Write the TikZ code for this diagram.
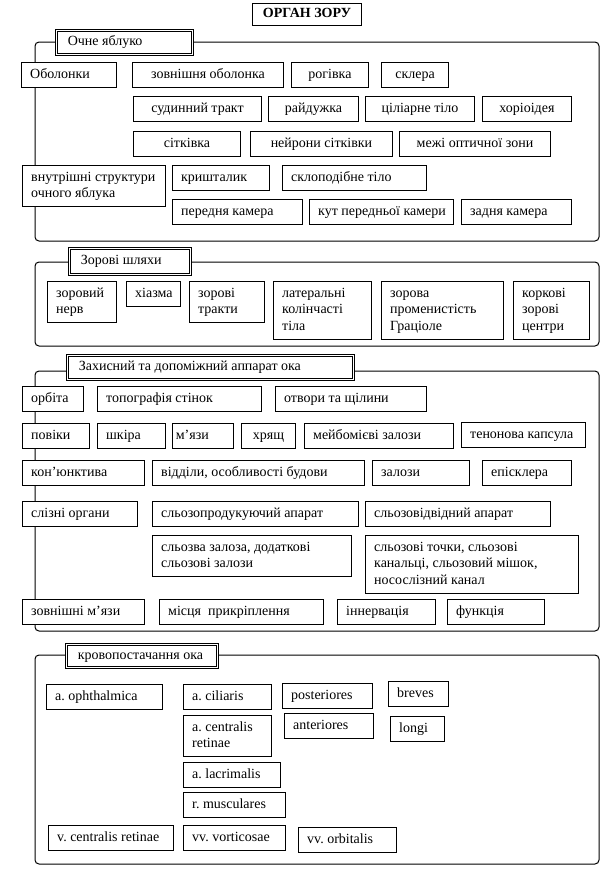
\documentclass[tikz,border=0pt]{standalone}
\usepackage{fontspec}
\setmainfont{Liberation Serif}
\frenchspacing
\tikzset{
  box/.style={draw, line width=0.75pt, fill=white, inner xsep=0pt, inner ysep=0pt,
    font=\fontsize{10.5}{12.2}\selectfont\frenchspacing},
  hdr/.style={box, line width=0.7pt, double=white, double distance=1.1pt},
  frame/.style={draw, line width=0.75pt, rounded corners=3pt},
}
\newcommand\bxpad{6.5pt}
% [style]{name}{x1}{y1}{x2}{y2}{align l/c}{text}
\newcommand\obox[8][box]{%
  \pgfmathsetmacro\bxw{(#5-#3)*0.75}%
  \pgfmathsetmacro\bxh{(#6-#4)*0.75}%
  \node[#1, anchor=north west, minimum width=\bxw pt, minimum height=\bxh pt] (#2) at (#3,#4)
    {\makebox[\bxw pt][#7]{\hspace*{\bxpad}\begin{tabular}{@{}#7@{}}#8\end{tabular}\hspace*{\bxpad}}};%
}
\begin{document}
\begin{tikzpicture}[x=0.75pt,y=-0.75pt]
\useasboundingbox (0,0) rectangle (615,890);
\fill[white] (0,0) rectangle (615,890);
% frames
\draw[frame] (35,42) rectangle (599,241);
\draw[frame] (35,262) rectangle (599,346);
\draw[frame] (35,371) rectangle (599,631);
\draw[frame] (35,655) rectangle (599,864);
% title
\obox{title}{252}{3}{361}{25}{c}{\textbf{ОРГАН ЗОРУ}}
% section 1
\renewcommand\bxpad{8.5pt}
\obox[hdr]{h1}{56}{30}{192}{54}{l}{Очне яблуко}
\renewcommand\bxpad{6.5pt}
\obox{b11}{21}{62}{116}{87}{l}{Оболонки}
\obox{b12}{132}{62}{283}{87}{c}{зовнішня оболонка}
\obox{b13}{291}{62}{368}{87}{c}{рогівка}
\obox{b14}{381}{62}{448}{87}{c}{склера}
\obox{b21}{133}{96}{261}{121}{c}{судинний тракт}
\obox{b22}{268}{96}{358}{121}{c}{райдужка}
\obox{b23}{365}{96}{474}{121}{c}{ціліарне тіло}
\obox{b24}{482}{96}{571}{121}{c}{хоріоідея}
\obox{b31}{133}{131}{240}{156}{c}{сітківка}
\obox{b32}{250}{131}{392}{156}{c}{нейрони сітківки}
\obox{b33}{399}{131}{550}{156}{c}{межі оптичної зони}
\obox{b41}{22}{165}{165}{206}{l}{внутрішні структури\\очного яблука}
\obox{b42}{172}{165}{269}{190}{l}{кришталик}
\obox{b43}{282}{165}{426}{190}{l}{склоподібне тіло}
\obox{b51}{172}{199}{302}{224}{l}{передня камера}
\obox{b52}{309}{199}{453}{224}{l}{кут передньої камери}
\obox{b53}{461}{199}{571}{224}{l}{задня камера}
% section 2
\renewcommand\bxpad{8.5pt}
\obox[hdr]{h2}{69}{248}{190}{274}{l}{Зорові шляхи}
\renewcommand\bxpad{6.5pt}
\obox{c1}{47}{281}{116}{322}{l}{зоровий\\нерв}
\obox{c2}{126}{281}{180}{306}{l}{хіазма}
\obox{c3}{189}{281}{264}{322}{l}{зорові\\тракти}
\obox{c4}{273}{281}{371}{339}{l}{латеральні\\колінчасті\\тіла}
\obox{c5}{381}{281}{503}{339}{l}{зорова\\променистість\\Граціоле}
\obox{c6}{513}{281}{589}{339}{l}{коркові\\зорові\\центри}
% section 3
\renewcommand\bxpad{8.5pt}
\obox[hdr]{h3}{67}{355}{353}{379}{l}{Захисний та допоміжний аппарат ока}
\renewcommand\bxpad{6.5pt}
\obox{d11}{22}{386}{83}{411}{l}{орбіта}
\obox{d12}{97}{386}{261}{411}{l}{топографія стінок}
\obox{d13}{275}{386}{426}{411}{l}{отвори та щілини}
\obox{d21}{22}{423}{89}{448}{l}{повіки}
\obox{d22}{97}{423}{165}{448}{l}{шкіра}
\renewcommand\bxpad{2.5pt}
\obox{d23}{172}{423}{233}{448}{l}{м’язи}
\renewcommand\bxpad{6.5pt}
\obox{d24}{241}{423}{295}{448}{c}{хрящ}
\obox{d25}{304}{423}{453}{448}{l}{мейбомієві залози}
\obox{d26}{461}{422}{585}{447}{l}{тенонова капсула}
\obox{d31}{22}{460}{144}{485}{l}{кон’юнктива}
\obox{d32}{152}{460}{364}{485}{l}{відділи, особливості будови}
\obox{d33}{372}{460}{469}{485}{l}{залози}
\obox{d34}{482}{460}{571}{485}{l}{епісклера}
\obox{d41}{22}{501}{137}{526}{l}{слізні органи}
\obox{d42}{152}{501}{358}{526}{l}{сльозопродукуючий апарат}
\obox{d43}{365}{501}{550}{526}{l}{сльозовідвідний апарат}
\obox{d51}{152}{535}{351}{576}{l}{сльозва залоза, додаткові\\сльозові залози}
\obox{d52}{365}{535}{578}{593}{l}{сльозові точки, сльозові\\канальці, сльозовий мішок,\\носослізний канал}
\obox{d61}{22}{599}{144}{624}{l}{зовнішні м’язи}
\obox{d62}{159}{599}{323}{624}{l}{місця\ \ прикріплення}
\obox{d63}{337}{599}{435}{624}{l}{іннервація}
\obox{d64}{447}{599}{544}{624}{l}{функція}
% section 4
\renewcommand\bxpad{8.5pt}
\obox[hdr]{h4}{66}{644}{217}{667}{l}{кровопостачання ока}
\renewcommand\bxpad{6.5pt}
\obox{e1}{46}{684}{162}{709}{l}{a. ophthalmica}
\obox{e2}{183}{684}{271}{709}{l}{a. ciliaris}
\obox{e3}{282}{683}{372}{708}{l}{posteriores}
\obox{e4}{388}{681}{448}{706}{l}{breves}
\obox{e5}{183}{715}{271}{756}{l}{a. centralis\\retinae}
\obox{e6}{284}{713}{373}{738}{l}{anteriores}
\obox{e7}{390}{716}{444}{741}{l}{longi}
\obox{e8}{183}{762}{280}{787}{l}{a. lacrimalis}
\obox{e9}{183}{792}{285}{817}{l}{r. musculares}
\obox{e10}{48}{825}{173}{850}{l}{v. centralis retinae}
\obox{e11}{183}{825}{285}{850}{l}{vv. vorticosae}
\obox{e12}{298}{827}{396}{852}{l}{vv. orbitalis}
\end{tikzpicture}
\end{document}
